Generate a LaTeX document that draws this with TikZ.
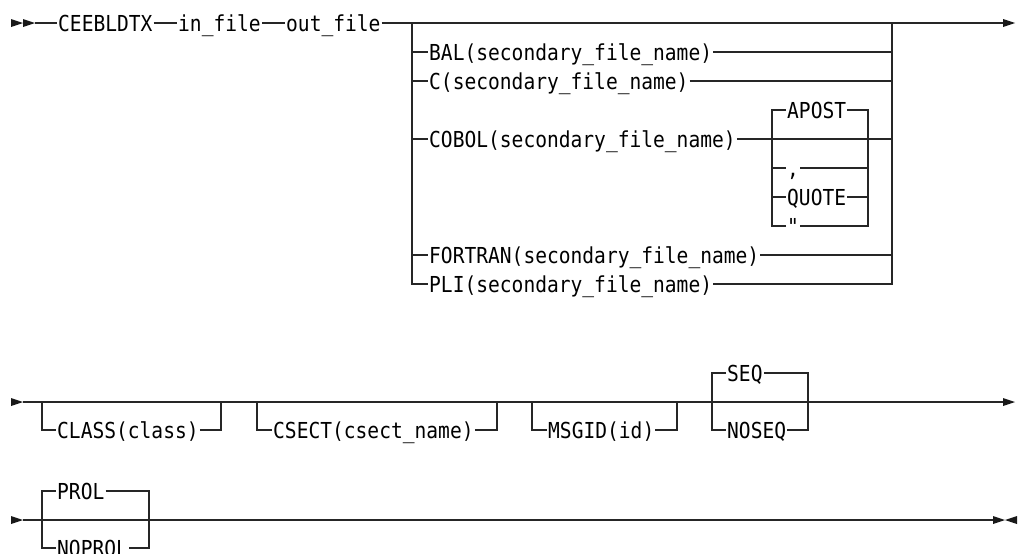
\documentclass[tikz,border=0pt]{standalone}
\usepackage{fontspec}
\newfontfamily\rrfont[FakeStretch=0.89]{DejaVu Sans Mono}
\begin{document}
\begin{tikzpicture}[x=1pt,y=-1pt,
  rail/.style={draw=black!85, line width=1.1pt},
  kw/.style={font=\rrfont\fontsize{22}{24}\selectfont, inner xsep=1pt, inner ysep=0pt,
             text height=16pt, text depth=0pt, anchor=west, text=black},
  tri/.style={fill=black!90}]
\useasboundingbox (0,0) rectangle (1018,554);

% ---------- row 1 ----------
\fill[tri] (11,19) -- (23,23) -- (11,27) -- cycle;
\fill[tri] (23,19) -- (35,23) -- (23,27) -- cycle;
\coordinate (st1) at (35,23);
\coordinate (e1) at (1003,23);
\coordinate (jl) at (412,23);
\coordinate (jr) at (892,23);
\node[kw] (cmd) at (57,23) {CEEBLDTX};
\node[kw] (inf) at (177,23) {in\_file};
\node[kw] (outf) at (285,23) {out\_file};
\draw[rail] (st1) -- (cmd.west) (cmd.east) -- (inf.west) (inf.east) -- (outf.west) (outf.east) -- (e1);
\fill[tri] (1003,19) -- (1015,23) -- (1003,27) -- cycle;

\node[kw] (bal) at (428,52) {BAL(secondary\_file\_name)};
\node[kw] (cc) at (428,81) {C(secondary\_file\_name)};
\node[kw] (cobol) at (428,139) {COBOL(secondary\_file\_name)};
\node[kw] (fortran) at (428,255) {FORTRAN(secondary\_file\_name)};
\node[kw] (pli) at (428,284) {PLI(secondary\_file\_name)};
\draw[rail] (jl) |- (pli.west);
\draw[rail] (jl |- bal) -- (bal.west) (jl |- cc) -- (cc.west)
            (jl |- cobol) -- (cobol.west) (jl |- fortran) -- (fortran.west);
\draw[rail] (jr) |- (pli.east);
\draw[rail] (bal.east) -- (jr |- bal) (cc.east) -- (jr |- cc)
            (cobol.east) -- (jr |- cobol) (fortran.east) -- (jr |- fortran);

% COBOL sub-choice
\coordinate (cl) at (772,110);
\coordinate (cr) at (868,110);
\node[kw] (apost) at (786,110) {APOST};
\node[kw] (comma) at (786,168) {,};
\node[kw] (quote) at (786,197) {QUOTE};
\node[kw] (dq) at (786,226) {"};
\draw[rail] (dq.west) -| (cl) -- (apost.west);
\draw[rail] (apost.east) -| (cr |- dq) -- (dq.east);
\draw[rail] (cl |- comma) -- (comma.west) (comma.east) -- (cr |- comma);
\draw[rail] (cl |- quote) -- (quote.west) (quote.east) -- (cr |- quote);

% ---------- row 2 ----------
\fill[tri] (11,398) -- (23,402) -- (11,406) -- cycle;
\coordinate (st2) at (23,402);
\coordinate (e2) at (1003,402);
\draw[rail] (st2) -- (e2);
\fill[tri] (1003,398) -- (1015,402) -- (1003,406) -- cycle;

\coordinate (k1l) at (42,402);  \coordinate (k1r) at (221,402);
\coordinate (k2l) at (257,402); \coordinate (k2r) at (497,402);
\coordinate (k3l) at (532,402); \coordinate (k3r) at (677,402);
\coordinate (k4l) at (712,402); \coordinate (k4r) at (808,402);
\node[kw] (class) at (56,430) {CLASS(class)};
\node[kw] (csect) at (272,430) {CSECT(csect\_name)};
\node[kw] (msgid) at (547,430) {MSGID(id)};
\node[kw] (seq) at (726,373) {SEQ};
\node[kw] (noseq) at (726,430) {NOSEQ};
\draw[rail] (k1l) |- (class.west) (class.east) -| (k1r);
\draw[rail] (k2l) |- (csect.west) (csect.east) -| (k2r);
\draw[rail] (k3l) |- (msgid.west) (msgid.east) -| (k3r);
\draw[rail] (seq.west) -| (k4l |- noseq) -- (noseq.west);
\draw[rail] (seq.east) -| (k4r |- noseq) -- (noseq.east);

% ---------- row 3 ----------
\fill[tri] (11,516) -- (23,520) -- (11,524) -- cycle;
\coordinate (st3) at (23,520);
\coordinate (e3) at (993,520);
\coordinate (p1l) at (42,520); \coordinate (p1r) at (149,520);
\node[kw] (prol) at (56,491) {PROL};
\node[kw] (noprol) at (56,548) {NOPROL};
\draw[rail] (st3) -- (e3);
\draw[rail] (prol.west) -| (p1l |- noprol) -- (noprol.west);
\draw[rail] (prol.east) -| (p1r |- noprol) -- (noprol.east);
\coordinate (d1) at (155,520); \coordinate (d2) at (178,520);
\draw[draw=black!85, line width=2.2pt] (d1) -- (d2);
\fill[tri] (993,516) -- (1005,520) -- (993,524) -- cycle;
\fill[tri] (1017,516) -- (1005,520) -- (1017,524) -- cycle;
\end{tikzpicture}
\end{document}
